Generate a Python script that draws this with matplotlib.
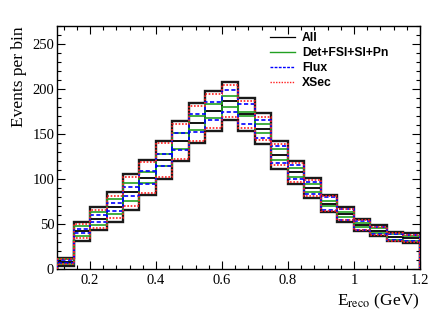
import numpy as np
import matplotlib
matplotlib.use('Agg')
import matplotlib.pyplot as plt
from matplotlib.ticker import MultipleLocator

# binning in reconstructed energy (GeV)
edges = np.round(np.arange(0.10, 1.2001, 0.05), 3)

# nominal prediction per bin
nominal = [8, 42, 56, 69, 86, 101.5, 121, 142, 162, 175.5, 186.5,
           172, 156, 127, 107.5, 90, 72.5, 60.5, 48.5, 42.5, 35.5, 34]
# absolute 1-sigma errors
err_all = [4.5, 10.5, 13, 16.5, 20, 19.5, 21.5, 22, 22, 22, 21,
           18.5, 17, 15.5, 13, 11, 9.5, 8, 6.8, 6, 5, 5.5]
err_det = [3, 6, 7, 8.5, 10, 6.5, 7, 9, 8, 8, 6,
           2.5, 5, 6, 5, 4, 3, 2.5, 2, 2.5, 3, 2.5]
err_flux = [2, 2.5, 3.5, 4.5, 5, 7, 7, 9.5, 10, 10, 12,
            11, 10, 9.5, 7.5, 7, 7, 6, 5, 4, 3.5, 3.5]
err_xsec = [3, 8, 10, 12.5, 16, 17, 18.5, 19.5, 19.5, 18.5, 17.5,
            15, 13, 12, 10.5, 9, 8, 6.5, 5.5, 4.5, 4, 4]

plt.rcParams['font.family'] = 'Liberation Serif'
plt.rcParams['mathtext.fontset'] = 'stix'

fig = plt.figure(figsize=(4.42, 3.22), dpi=100)
ax = fig.add_axes([0.129, 0.165, 0.821, 0.754])

nom = np.array(nominal)

# All band + nominal
for sgn in (1, -1):
    ax.stairs(nom + sgn*np.array(err_all), edges, baseline=0, color='#1a1a1a', lw=1.7, zorder=2)
ax.stairs(nom, edges, baseline=0, color='black', lw=1.3, zorder=2)

styles = [(err_det, '#22a022', '-', 1.2),
          (err_flux, '#0000ff', (0, (2.5, 1.5)), 1.2),
          (err_xsec, '#ff2020', (0, (1, 1)), 1.2)]
for err, col, ls, lw in styles:
    for sgn in (1, -1):
        ax.stairs(nom + sgn*np.array(err), edges, baseline=0, color=col,
                  ls=ls, lw=lw, zorder=3)

# legend proxies
h_all, = ax.plot([], [], color='black', lw=0.9)
h_det, = ax.plot([], [], color='#22a022', lw=1.0)
h_flux, = ax.plot([], [], color='#0000ff', lw=1.0, ls=(0, (2, 1)))
h_xsec, = ax.plot([], [], color='#ff2020', lw=1.0, ls=(0, (1, 1)))
ax.legend([h_all, h_det, h_flux, h_xsec], ['All', 'Det+FSI+SI+Pn', 'Flux', 'XSec'],
          loc='upper left', bbox_to_anchor=(0.587, 0.975), frameon=False,
          prop={'family': 'Liberation Sans', 'weight': 'bold', 'size': 8.7},
          handlelength=2.1, handletextpad=0.55, labelspacing=0.25,
          borderpad=0, borderaxespad=0)

ax.set_xlim(0.1, 1.2)
ax.set_ylim(0, 270)
ax.xaxis.set_major_locator(MultipleLocator(0.2))
ax.xaxis.set_minor_locator(MultipleLocator(0.04))
ax.yaxis.set_major_locator(MultipleLocator(50))
ax.yaxis.set_minor_locator(MultipleLocator(10))
ax.set_xticks([0.2, 0.4, 0.6, 0.8, 1.0, 1.2], ['0.2', '0.4', '0.6', '0.8', '1', '1.2'])
ax.tick_params(which='both', direction='in', top=True, right=True, labelsize=10.5)
ax.tick_params(which='major', length=6, width=0.8)
ax.tick_params(which='minor', length=3, width=0.8)
ax.tick_params(axis='y', pad=2)
ax.tick_params(axis='x', pad=4)
for s in ax.spines.values():
    s.set_linewidth(1.0)

ax.set_ylabel('Events per bin', fontsize=12.5, loc='top', labelpad=4)
ax.set_xlabel(r'E$_{\rm reco}$ (GeV)', fontsize=12.5, loc='right', labelpad=3)

fig.savefig('out.png', dpi=100)
